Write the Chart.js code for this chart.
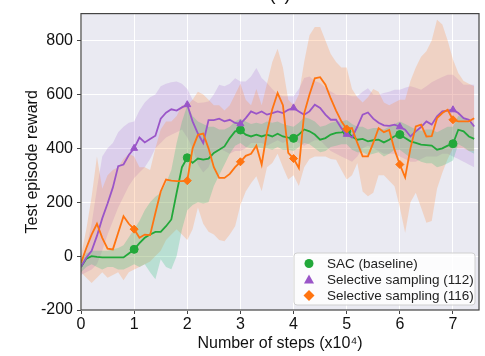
<!DOCTYPE html>
<html>
<head>
<meta charset="utf-8">
<script src="https://cdn.jsdelivr.net/npm/chart.js@4.4.0/dist/chart.umd.min.js"></script>
<style>
  html, body { margin: 0; padding: 0; background: #fff; }
  #wrap { position: relative; width: 485px; height: 356px; }
</style>
</head>
<body>
<div id="wrap"><canvas id="rewardChart" width="485" height="356"></canvas></div>
<script>
// steps, in units of 1e4
const steps = [0.0,0.1,0.2,0.3,0.4,0.5,0.6,0.7,0.8,0.9,
  1.0,1.1,1.2,1.3,1.4,1.5,1.6,1.7,1.8,1.9,
  2.0,2.1,2.2,2.3,2.4,2.5,2.6,2.7,2.8,2.9,
  3.0,3.1,3.2,3.3,3.4,3.5,3.6,3.7,3.8,3.9,
  4.0,4.1,4.2,4.3,4.4,4.5,4.6,4.7,4.8,4.9,
  5.0,5.1,5.2,5.3,5.4,5.5,5.6,5.7,5.8,5.9,
  6.0,6.1,6.2,6.3,6.4,6.5,6.6,6.7,6.8,6.9,
  7.0,7.1,7.2,7.3,7.4];

// SAC (baseline)
const sacMean = [-40,-10,0,-3,-5,-5,-5,-5,-5,10,
  25,48,68,80,90,90,111,136,235,330,
  365,346,362,358,362,383,395,407,438,463,
  468,451,444,451,444,451,444,454,444,440,
  437,451,470,463,451,432,438,451,457,459,
  463,444,432,435,426,430,432,422,432,445,
  451,438,426,420,414,412,410,395,400,410,
  417,469,463,444,435];
const sacUpper = [-20,10,20,20,20,20,25,30,40,70,
  100,130,170,200,220,235,270,320,420,500,
  560,520,500,490,480,480,470,470,480,500,
  510,500,490,495,490,500,495,500,490,485,
  480,495,515,510,500,480,485,495,500,500,
  505,490,480,480,470,475,475,470,480,490,
  500,490,480,470,465,470,470,460,470,480,
  480,520,515,495,490];
const sacLower = [-60,-40,-30,-40,-50,-40,-40,-50,-50,-40,
  -30,-40,-30,-60,-86,-12,-40,-49,0,99,
  170,190,200,195,200,260,300,340,380,410,
  420,405,400,405,400,400,395,405,395,395,
  390,405,420,415,400,385,390,405,410,415,
  415,395,385,385,375,380,385,370,380,395,
  395,380,365,360,350,345,345,330,335,345,
  355,415,405,390,380];

// Selective sampling (112)
const sel112Mean = [-40,-6,20,75,140,195,255,334,340,375,
  400,440,422,435,447,510,532,545,540,552,
  562,500,455,420,505,505,510,500,506,494,
  491,512,537,528,537,525,531,537,531,543,
  550,537,525,537,562,550,525,506,506,475,
  452,440,480,525,533,510,495,485,483,488,
  480,469,444,463,479,500,488,519,537,540,
  543,531,512,506,481];
const sel112Upper = [-20,30,120,250,370,400,420,460,480,495,
  500,540,570,590,600,630,640,645,648,640,
  620,580,568,570,574,600,636,630,640,660,
  648,648,667,698,661,642,620,600,593,593,
  593,620,661,667,650,642,625,611,600,599,
  599,593,593,610,623,600,599,605,610,617,
  617,625,630,625,617,630,645,655,665,673,
  673,655,636,636,636];
const sel112Lower = [-70,-60,-50,-30,20,80,130,180,220,260,
  290,310,330,360,400,420,440,450,460,470,
  440,400,340,310,330,380,400,390,380,390,
  390,400,420,420,420,410,420,430,420,430,
  430,420,410,420,430,430,410,390,380,370,
  360,350,370,400,410,400,390,380,380,380,
  370,360,350,350,360,370,370,370,380,380,
  370,360,350,340,330];

// Selective sampling (116)
const sel116Mean = [-25,30,80,120,68,28,25,87,148,120,
  100,68,80,78,160,240,284,280,278,278,
  280,400,450,455,400,330,290,290,305,330,
  350,372,380,410,340,460,545,605,560,383,
  362,327,530,600,660,664,636,585,540,500,
  472,475,420,370,370,420,475,460,468,395,
  340,292,400,481,488,444,445,512,531,543,
  506,500,500,500,512];
const sel116Upper = [0,100,220,370,250,300,320,330,360,380,
  370,330,330,320,400,470,500,500,520,560,
  560,580,610,600,580,560,560,540,560,600,
  640,580,560,620,560,640,720,770,700,580,
  560,600,720,820,850,850,800,750,720,700,
  700,620,590,570,590,620,610,570,560,570,
  580,580,650,700,740,760,800,877,860,800,
  730,680,650,640,630];
const sel116Lower = [-60,-80,-100,-80,-60,-80,-70,-60,-90,-60,
  -50,-40,-30,-20,0,20,60,80,100,80,
  60,100,180,120,90,80,60,55,80,111,
  190,240,270,296,241,330,346,380,330,284,
  300,260,330,360,370,370,370,360,358,320,
  284,300,346,240,222,235,300,300,280,259,
  180,87,200,235,180,124,130,250,309,360,
  400,400,400,390,390];

const xTicks = [0, 1, 2, 3, 4, 5, 6, 7];
const yTicks = [-200, 0, 200, 400, 600, 800];

const GREEN = '#22a83a';
const PURPLE = '#9a55c8';
const ORANGE = '#ff7410';
const FONT = "'Liberation Sans', Arial, sans-serif";

function pts(ys) {
  return steps.map((x, i) => ({ x: x, y: ys[i] }));
}

function lineSet(label, data, color, style) {
  return {
    label: label,
    data: pts(data),
    borderColor: color,
    backgroundColor: color,
    borderWidth: 1.8,
    pointStyle: style,
    pointRadius: ctx => (ctx.dataIndex > 0 && ctx.dataIndex % 10 === 0) ? 4 : 0,
    pointBorderWidth: 1,
    pointBackgroundColor: color,
    fill: false,
    tension: 0
  };
}

function bandSet(data, fillColor, isUpper) {
  return {
    label: '',
    data: pts(data),
    borderWidth: 0,
    pointRadius: 0,
    backgroundColor: fillColor,
    fill: isUpper ? '+1' : false,
    tension: 0
  };
}

// plot background and frame
const backdrop = {
  id: 'backdrop',
  beforeDraw(chart) {
    const { ctx, chartArea: a } = chart;
    ctx.save();
    ctx.fillStyle = '#eaeaf2';
    ctx.fillRect(a.left, a.top, a.right - a.left, a.bottom - a.top);
    ctx.restore();
  },
  afterDatasetsDraw(chart) {
    const { ctx, chartArea: a } = chart;
    ctx.save();
    ctx.strokeStyle = '#444';
    ctx.lineWidth = 1.2;
    ctx.strokeRect(a.left, a.top, a.right - a.left, a.bottom - a.top);
    ctx.restore();
  },
  afterDraw(chart) {
    const { ctx, chartArea: a } = chart;
    ctx.save();
    // subplot title, mostly cut off above the picture
    ctx.fillStyle = '#111';
    ctx.font = '18px ' + FONT;
    ctx.textAlign = 'center';
    ctx.textBaseline = 'alphabetic';
    ctx.fillText('(c)', (a.left + a.right) / 2, -0.5);

    // legend in the lower right corner
    const bx = 294, by = 253, bw = 181, bh = 52;
    ctx.beginPath();
    ctx.roundRect(bx, by, bw, bh, 3);
    ctx.fillStyle = 'rgba(255,255,255,0.85)';
    ctx.fill();
    ctx.strokeStyle = '#d0d0d0';
    ctx.lineWidth = 1;
    ctx.stroke();

    const rows = [
      { label: 'SAC (baseline)', color: GREEN, shape: 'circle' },
      { label: 'Selective sampling (112)', color: PURPLE, shape: 'triangle' },
      { label: 'Selective sampling (116)', color: ORANGE, shape: 'diamond' }
    ];
    ctx.font = '13.5px ' + FONT;
    ctx.textAlign = 'left';
    ctx.textBaseline = 'middle';
    rows.forEach((r, i) => {
      const mx = 309, my = 263.5 + i * 16;
      ctx.fillStyle = r.color;
      ctx.beginPath();
      if (r.shape === 'circle') {
        ctx.arc(mx, my, 4.5, 0, Math.PI * 2);
      } else if (r.shape === 'triangle') {
        ctx.moveTo(mx, my - 5);
        ctx.lineTo(mx + 5, my + 4);
        ctx.lineTo(mx - 5, my + 4);
        ctx.closePath();
      } else {
        ctx.moveTo(mx, my - 5.5);
        ctx.lineTo(mx + 5.5, my);
        ctx.lineTo(mx, my + 5.5);
        ctx.lineTo(mx - 5.5, my);
        ctx.closePath();
      }
      ctx.fill();
      ctx.fillStyle = '#222';
      ctx.fillText(r.label, 327, my + 0.5);
    });
    ctx.restore();
  }
};

const ctx = document.getElementById('rewardChart').getContext('2d');
const rewardChart = new Chart(ctx, {
  type: 'line',
  data: {
    datasets: [
      lineSet('Selective sampling (116)', sel116Mean, ORANGE, 'rectRot'),
      lineSet('Selective sampling (112)', sel112Mean, PURPLE, 'triangle'),
      lineSet('SAC (baseline)', sacMean, GREEN, 'circle'),
      bandSet(sacUpper, 'rgba(40, 190, 120, 0.25)', true),
      bandSet(sacLower, 'rgba(40, 190, 120, 0.25)', false),
      bandSet(sel116Upper, 'rgba(255, 140, 60, 0.25)', true),
      bandSet(sel116Lower, 'rgba(255, 140, 60, 0.25)', false),
      bandSet(sel112Upper, 'rgba(175, 125, 215, 0.25)', true),
      bandSet(sel112Lower, 'rgba(175, 125, 215, 0.25)', false)
    ]
  },
  options: {
    responsive: false,
    animation: false,
    layout: { padding: { top: 13, right: 6, left: 0, bottom: 0 } },
    plugins: {
      legend: { display: false },
      tooltip: { enabled: false },
      title: { display: false }
    },
    scales: {
      x: {
        type: 'linear',
        min: 0,
        max: 7.49,
        afterBuildTicks: scale => { scale.ticks = xTicks.map(v => ({ value: v })); },
        afterFit: scale => { scale.height = 46; },
        grid: { color: '#ffffff', lineWidth: 1, drawTicks: true, tickLength: 4, tickColor: '#444' },
        border: { display: false },
        ticks: { color: '#111', font: { family: FONT, size: 16 }, padding: 1, maxRotation: 0 },
        title: {
          display: true,
          text: 'Number of steps (x10\u2074)',
          color: '#111',
          font: { family: FONT, size: 16 },
          padding: { top: 0, bottom: 3 }
        }
      },
      y: {
        min: -200,
        max: 900,
        afterBuildTicks: scale => { scale.ticks = yTicks.map(v => ({ value: v })); },
        afterFit: scale => { scale.width = 81; },
        grid: { color: '#ffffff', lineWidth: 1, drawTicks: true, tickLength: 4, tickColor: '#444' },
        border: { display: false },
        ticks: { color: '#111', font: { family: FONT, size: 16 }, padding: 4 },
        title: {
          display: true,
          text: 'Test episode reward',
          color: '#111',
          font: { family: FONT, size: 16 },
          padding: { top: 23, bottom: 0 }
        }
      }
    }
  },
  plugins: [backdrop]
});
</script>
</body>
</html>
